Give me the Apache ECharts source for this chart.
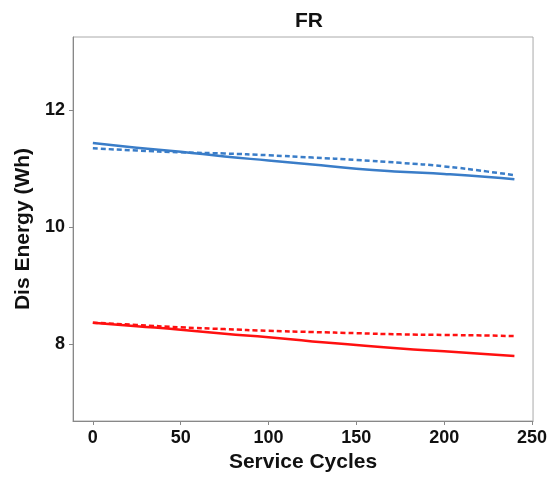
<!DOCTYPE html>
<html>
<head>
<meta charset="utf-8">
<script src="https://cdn.jsdelivr.net/npm/echarts@6/dist/echarts.min.js"></script>
<style>html,body{margin:0;padding:0;background:#fff;}#c{width:550px;height:478px;}</style>
</head>
<body>
<div id="c"></div>
<script>
const cycles = [0, 25, 50, 75, 100, 125, 150, 175, 200, 225, 240];
const blueSolid = [11.44, 11.36, 11.29, 11.21, 11.14, 11.07, 11.0, 10.95, 10.91, 10.86, 10.82];
const blueDashed = [11.35, 11.31, 11.28, 11.26, 11.23, 11.19, 11.15, 11.10, 11.04, 10.95, 10.89];
const redSolid = [8.37, 8.31, 8.25, 8.18, 8.12, 8.05, 7.99, 7.93, 7.88, 7.83, 7.80];
const redDashed = [8.37, 8.33, 8.29, 8.26, 8.23, 8.21, 8.19, 8.17, 8.16, 8.15, 8.14];
const xTicks = [0, 50, 100, 150, 200, 250];
const yTicks = [8, 10, 12];

const pairs = ys => cycles.map((x, i) => [x, ys[i]]);
const BLUE = '#3A7DC8', RED = '#FF1010';
const font = 'Liberation Sans, Arial, sans-serif';

const chart = echarts.init(document.getElementById('c'));
chart.setOption({
  animation: false,
  backgroundColor: '#fff',
  title: {
    text: 'FR', left: 304, top: 6, textAlign: 'center',
    textStyle: {fontFamily: font, fontWeight: 'bold', fontSize: 21, color: '#111'}
  },
  grid: {left: 73, right: 15, top: 37, bottom: 54, show: true, borderColor: '#aaa', borderWidth: 1},
  xAxis: {
    type: 'value', min: -11.3, max: 250.6,
    name: 'Service Cycles', nameLocation: 'middle', nameGap: 31,
    nameTextStyle: {fontFamily: font, fontWeight: 'bold', fontSize: 21, color: '#111'},
    axisLine: {show: true, onZero: false, lineStyle: {color: '#888'}},
    axisTick: {show: true, length: 4, lineStyle: {color: '#888'}, customValues: xTicks},
    axisLabel: {fontFamily: font, fontWeight: 'bold', fontSize: 18, color: '#111', margin: 8, customValues: xTicks},
    splitLine: {show: false}
  },
  yAxis: {
    type: 'value', min: 6.69, max: 13.25,
    name: 'Dis Energy (Wh)', nameLocation: 'middle', nameGap: 36,
    nameTextStyle: {fontFamily: font, fontWeight: 'bold', fontSize: 21, color: '#111'},
    axisLine: {show: true, onZero: false, lineStyle: {color: '#888'}},
    axisTick: {show: true, length: 4, lineStyle: {color: '#888'}, customValues: yTicks},
    axisLabel: {fontFamily: font, fontWeight: 'bold', fontSize: 18, color: '#111', margin: 8, customValues: yTicks},
    splitLine: {show: false}
  },
  series: [
    {type: 'line', data: pairs(blueSolid), smooth: true, showSymbol: false, lineStyle: {color: BLUE, width: 2.5}},
    {type: 'line', data: pairs(blueDashed), smooth: true, showSymbol: false, lineStyle: {color: BLUE, width: 2.5, type: [5, 3]}},
    {type: 'line', data: pairs(redSolid), smooth: true, showSymbol: false, lineStyle: {color: RED, width: 2.5}},
    {type: 'line', data: pairs(redDashed), smooth: true, showSymbol: false, lineStyle: {color: RED, width: 2.5, type: [5, 3]}}
  ]
});
</script>
</body>
</html>
